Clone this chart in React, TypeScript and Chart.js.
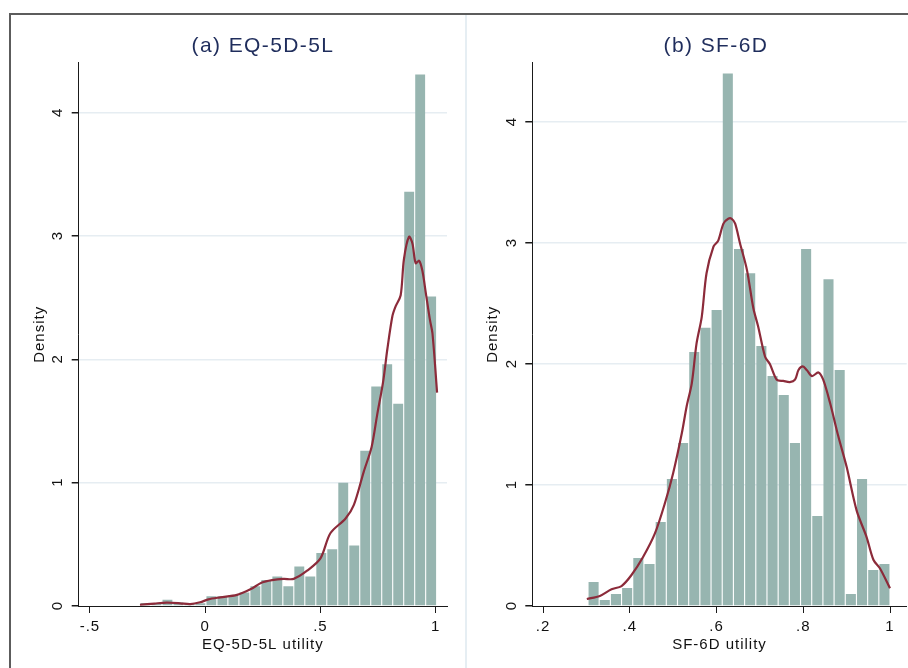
import React, { useEffect, useRef } from 'react';
import { Chart, registerables } from 'chart.js';

Chart.register(...registerables);

const FONT = '"Liberation Sans", Arial, Helvetica, sans-serif';
const BAR_COLOR = '#97b5b0';
const LINE_COLOR = '#8c2b3a';
const GRID_COLOR = '#e6edf2';
const AXIS_COLOR = '#1a1a1a';
const TEXT_COLOR = '#111111';
const TITLE_COLOR = '#1f2d5c';

// ---------- Panel (a) EQ-5D-5L ----------
const EQ_TITLE = '(a) EQ-5D-5L';
const EQ_X_TITLE = 'EQ-5D-5L utility';
const EQ_BIN_START = -0.283;
const EQ_BIN_WIDTH = 0.04767;
const EQ_DENSITY = [
  0.025, 0.025, 0.05, 0.03, 0.018, 0.022, 0.08, 0.08, 0.09, 0.11, 0.16, 0.21, 0.24, 0.16,
  0.32, 0.24, 0.43, 0.46, 1.0, 0.49, 1.26, 1.78, 1.96, 1.64, 3.36, 4.31, 2.51,
];
const EQ_KDE_X = [
  -0.283, -0.22, -0.167, -0.109, -0.065, -0.022, 0.014, 0.065, 0.138, 0.196, 0.246, 0.29,
  0.34, 0.384, 0.442, 0.5, 0.543, 0.609, 0.645, 0.688, 0.722, 0.746, 0.772, 0.79, 0.812,
  0.826, 0.848, 0.862, 0.884, 0.899, 0.913, 0.928, 0.942, 0.957, 0.975, 0.986, 1.006,
];
const EQ_KDE_Y = [
  0.01, 0.02, 0.027, 0.022, 0.015, 0.03, 0.054, 0.07, 0.09, 0.135, 0.19, 0.21, 0.22, 0.22,
  0.286, 0.386, 0.59, 0.71, 0.82, 1.09, 1.29, 1.55, 1.82, 2.08, 2.35, 2.43, 2.52, 2.81,
  2.995, 2.94, 2.78, 2.8, 2.72, 2.54, 2.32, 2.21, 1.73,
];
const EQ_X_TICKS = [-0.5, 0, 0.5, 1];
const EQ_X_LABELS = ['-.5', '0', '.5', '1'];
const EQ_X_MIN = -0.5488;
const EQ_X_MAX = 1.049;
const EQ_Y_MAX = 4.406;

// ---------- Panel (b) SF-6D ----------
const SF_TITLE = '(b) SF-6D';
const SF_X_TITLE = 'SF-6D utility';
const SF_BIN_START = 0.3037;
const SF_BIN_WIDTH = 0.02579;
const SF_DENSITY = [
  0.198, 0.05, 0.099, 0.149, 0.397, 0.347, 0.694, 1.05, 1.347, 2.1, 2.3, 2.446, 4.4, 2.95,
  2.75, 2.149, 1.9, 1.744, 1.347, 2.95, 0.744, 2.7, 1.95, 0.099, 1.05, 0.298, 0.347,
];
const SF_KDE_X = [
  0.301, 0.331, 0.358, 0.381, 0.404, 0.431, 0.458, 0.481, 0.5, 0.52, 0.531, 0.543, 0.554,
  0.566, 0.577, 0.593, 0.604, 0.616, 0.627, 0.635, 0.643, 0.654, 0.67, 0.685, 0.696, 0.712,
  0.723, 0.739, 0.754, 0.769, 0.781, 0.789, 0.799, 0.808, 0.82, 0.835, 0.846, 0.862, 0.881,
  0.9, 0.923, 0.946, 0.962, 0.977, 1.0,
];
const SF_KDE_Y = [
  0.058, 0.083, 0.138, 0.165, 0.256, 0.407, 0.6, 0.849, 1.097, 1.427, 1.647, 1.84, 2.17,
  2.39, 2.75, 2.97, 3.02, 3.16, 3.2, 3.2, 3.16, 3.0, 2.78, 2.46, 2.31, 2.06, 2.0, 1.87, 1.86,
  1.85, 1.87, 1.95, 1.98, 1.95, 1.9, 1.93, 1.87, 1.675, 1.4, 1.15, 0.79, 0.57, 0.38, 0.31,
  0.146,
];
const SF_X_TICKS = [0.2, 0.4, 0.6, 0.8, 1];
const SF_X_LABELS = ['.2', '.4', '.6', '.8', '1'];
const SF_X_MIN = 0.1753;
const SF_X_MAX = 1.0385;
const SF_Y_MAX = 4.49;

const Y_TICKS = [0, 1, 2, 3, 4];
const Y_LABELS = ['0', '1', '2', '3', '4'];
const Y_TITLE = 'Density';

type PanelSpec = {
  width: number;
  height: number;
  yAxisWidth: number;
  padRight: number;
  padTop: number;
  xAxisHeight: number;
  yTitlePad: number;
  binStart: number;
  binWidth: number;
  density: number[];
  kdeX: number[];
  kdeY: number[];
  xTicks: number[];
  xLabels: string[];
  xMin: number;
  xMax: number;
  yMax: number;
  xTitle: string;
};

const spacingPlugin = {
  id: 'letterSpacing',
  beforeDraw(chart: any) {
    chart.ctx.letterSpacing = '1px';
  },
};

const yLabelPlugin = {
  id: 'rotatedYLabels',
  afterDraw(chart: any) {
    const s = chart.scales.y;
    const ctx = chart.ctx;
    ctx.save();
    ctx.fillStyle = TEXT_COLOR;
    ctx.font = `15px ${FONT}`;
    ctx.letterSpacing = '1px';
    ctx.textAlign = 'center';
    ctx.textBaseline = 'middle';
    Y_TICKS.forEach((v, i) => {
      const y = s.getPixelForValue(v);
      ctx.save();
      ctx.translate(s.right - 20.5, y);
      ctx.rotate(-Math.PI / 2);
      ctx.fillText(Y_LABELS[i], 0.5, 0);
      ctx.restore();
    });
    ctx.restore();
  },
};

function makeChart(canvas: HTMLCanvasElement, p: PanelSpec) {
  const bars = p.density.map((d, i) => ({ x: p.binStart + (i + 0.5) * p.binWidth, y: d }));
  const kde = p.kdeX.map((x, i) => ({ x, y: p.kdeY[i] }));
  return new Chart(canvas, {
    type: 'bar',
    data: {
      datasets: [
        {
          type: 'line',
          data: kde,
          borderColor: LINE_COLOR,
          borderWidth: 2.2,
          pointRadius: 0,
          tension: 0.3,
          fill: false,
          order: 0,
        } as any,
        {
          type: 'bar',
          data: bars,
          backgroundColor: BAR_COLOR,
          borderWidth: 0,
          barPercentage: 0.9,
          categoryPercentage: 1,
          order: 1,
        } as any,
      ],
    },
    options: {
      responsive: false,
      animation: false,
      events: [],
      layout: { padding: { left: 0, top: p.padTop, right: p.padRight, bottom: 0 } },
      plugins: { legend: { display: false }, tooltip: { enabled: false }, title: { display: false } },
      scales: {
        x: {
          type: 'linear',
          min: p.xMin,
          max: p.xMax,
          offset: false,
          afterBuildTicks: (s: any) => {
            s.ticks = p.xTicks.map((v) => ({ value: v }));
          },
          afterFit: (s: any) => {
            s.height = p.xAxisHeight;
          },
          border: { display: true, color: AXIS_COLOR, width: 1 },
          grid: {
            offset: false,
            drawOnChartArea: false,
            drawTicks: true,
            tickLength: 7,
            tickColor: AXIS_COLOR,
          },
          ticks: {
            autoSkip: false,
            maxRotation: 0,
            minRotation: 0,
            padding: 5,
            color: TEXT_COLOR,
            font: { family: FONT, size: 15 },
            callback: (v: any) => {
              const i = p.xTicks.findIndex((t) => Math.abs(t - v) < 1e-9);
              return i >= 0 ? p.xLabels[i] : '';
            },
          },
          title: {
            display: true,
            text: p.xTitle,
            color: TEXT_COLOR,
            font: { family: FONT, size: 15 },
            padding: { top: 0, bottom: 14 },
          },
        } as any,
        y: {
          type: 'linear',
          min: 0,
          max: p.yMax,
          afterBuildTicks: (s: any) => {
            s.ticks = Y_TICKS.map((v) => ({ value: v }));
          },
          afterFit: (s: any) => {
            s.width = p.yAxisWidth;
          },
          border: { display: true, color: AXIS_COLOR, width: 1 },
          grid: {
            drawOnChartArea: true,
            color: (ctx: any) => (ctx.tick && ctx.tick.value === 0 ? 'rgba(0,0,0,0)' : GRID_COLOR),
            lineWidth: 1.5,
            drawTicks: true,
            tickLength: 7,
            tickColor: AXIS_COLOR,
          },
          ticks: { display: false },
          title: {
            display: true,
            text: Y_TITLE,
            color: TEXT_COLOR,
            font: { family: FONT, size: 15 },
            padding: { top: p.yTitlePad, bottom: 0 },
          },
        } as any,
      },
    },
    plugins: [spacingPlugin, yLabelPlugin],
  });
}

function Panel({ spec, left }: { spec: PanelSpec; left: number }) {
  const ref = useRef<HTMLCanvasElement | null>(null);
  useEffect(() => {
    if (!ref.current) return;
    const c = makeChart(ref.current, spec);
    return () => c.destroy();
  }, [spec]);
  return (
    <canvas
      ref={ref}
      width={spec.width}
      height={spec.height}
      style={{ position: 'absolute', left, top: 0, width: spec.width, height: spec.height }}
    />
  );
}

const LEFT_SPEC: PanelSpec = {
  width: 465,
  height: 668,
  yAxisWidth: 78.7,
  padRight: 18,
  padTop: 62.7,
  xAxisHeight: 62,
  yTitlePad: 30.7,
  binStart: EQ_BIN_START,
  binWidth: EQ_BIN_WIDTH,
  density: EQ_DENSITY,
  kdeX: EQ_KDE_X,
  kdeY: EQ_KDE_Y,
  xTicks: EQ_X_TICKS,
  xLabels: EQ_X_LABELS,
  xMin: EQ_X_MIN,
  xMax: EQ_X_MAX,
  yMax: EQ_Y_MAX,
  xTitle: EQ_X_TITLE,
};

const RIGHT_SPEC: PanelSpec = {
  width: 443,
  height: 668,
  yAxisWidth: 67.3,
  padRight: 1.3,
  padTop: 62.7,
  xAxisHeight: 62,
  yTitlePad: 19.3,
  binStart: SF_BIN_START,
  binWidth: SF_BIN_WIDTH,
  density: SF_DENSITY,
  kdeX: SF_KDE_X,
  kdeY: SF_KDE_Y,
  xTicks: SF_X_TICKS,
  xLabels: SF_X_LABELS,
  xMin: SF_X_MIN,
  xMax: SF_X_MAX,
  yMax: SF_Y_MAX,
  xTitle: SF_X_TITLE,
};

const titleStyle = (center: number): React.CSSProperties => ({
  position: 'absolute',
  left: center - 150,
  width: 300,
  top: 33,
  lineHeight: '24px',
  textAlign: 'center',
  fontFamily: FONT,
  fontSize: 21,
  letterSpacing: '1.4px',
  color: TITLE_COLOR,
  zIndex: 2,
});

export default function App() {
  return (
    <div
      style={{
        position: 'fixed',
        left: 0,
        top: 0,
        width: 908,
        height: 668,
        background: '#ffffff',
        overflow: 'hidden',
      }}
    >
      <Panel spec={LEFT_SPEC} left={0} />
      <Panel spec={RIGHT_SPEC} left={465} />
      <div style={titleStyle(263)}>{EQ_TITLE}</div>
      <div style={titleStyle(716)}>{SF_TITLE}</div>
      <div style={{ position: 'absolute', left: 9, top: 13, width: 899, height: 2, background: '#5c5c5c', zIndex: 3 }} />
      <div style={{ position: 'absolute', left: 8.5, top: 13, width: 2, height: 655, background: '#5c5c5c', zIndex: 3 }} />
      <div style={{ position: 'absolute', left: 464.5, top: 15, width: 2, height: 653, background: '#e6eef3', zIndex: 1 }} />
    </div>
  );
}
